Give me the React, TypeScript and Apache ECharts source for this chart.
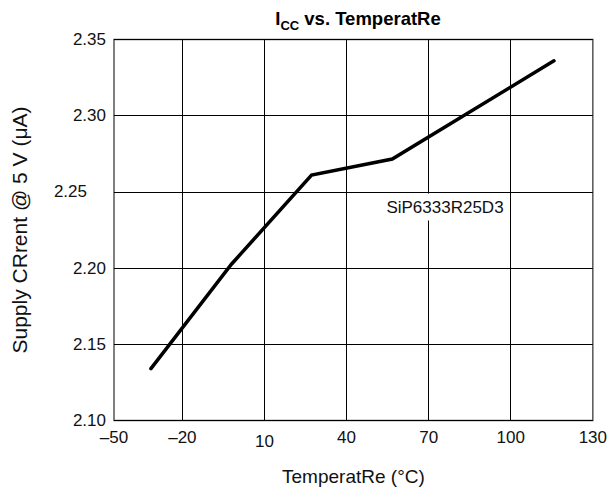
import React, { useEffect, useRef } from "react";
import * as echarts from "echarts";

const temperatures = [-31.5, -2, 27.2, 56.7, 115.8];
const supplyCurrent = [2.134, 2.2027, 2.261, 2.2716, 2.336];
const xTickValues = [-45, -20, 10, 40, 70, 100, 130];
const xTickLabels = ["\u201350", "\u201320", "10", "40", "70", "100", "130"];
const xGridValues = [-20, 10, 40, 70, 100];
const seriesLabel = "SiP6333R25D3";

const FONT = "Liberation Sans, Arial, Helvetica, sans-serif";

export default function App() {
  const ref = useRef<HTMLDivElement>(null);
  useEffect(() => {
    if (!ref.current) return;
    const chart = echarts.init(ref.current, undefined, { renderer: "svg" });
    chart.setOption({
      animation: false,
      backgroundColor: "#fff",
      textStyle: { fontFamily: FONT },
      title: {
        text: "{a|I}{b|CC}{a| vs. TemperatRe}",
        left: 353,
        textAlign: "center",
        top: 1,
        textStyle: {
          rich: {
            a: { fontFamily: FONT, fontSize: 18.5, fontWeight: "bold", color: "#000", verticalAlign: "bottom", lineHeight: 22 },
            b: { fontFamily: FONT, fontSize: 13, fontWeight: "bold", color: "#000", verticalAlign: "bottom", lineHeight: 16, padding: [0, 0, -4, 0] },
          },
        },
      },
      grid: {
        left: 114,
        right: 16,
        top: 39.5,
        bottom: 76.5,
        show: true,
        borderColor: "#555",
        borderWidth: 1.5,
        containLabel: false,
      },
      xAxis: {
        type: "value",
        min: -45,
        max: 130,
        name: "TemperatRe (\u00B0C)",
        nameLocation: "middle",
        nameGap: 46,
        nameTextStyle: { fontFamily: FONT, fontSize: 19, color: "#111" },
        axisLine: { show: false },
        axisTick: { show: false, customValues: xTickValues },
        splitLine: { show: false },
        axisLabel: {
          customValues: xTickValues,
          showMinLabel: true,
          showMaxLabel: true,
          margin: 8,
          fontFamily: FONT,
          fontSize: 17,
          color: "#111",
          formatter: (v: number) => {
            const i = xTickValues.indexOf(v);
            if (i < 0) return "";
            return v === 10 ? "{low|" + xTickLabels[i] + "}" : xTickLabels[i];
          },
          rich: {
            low: { fontFamily: FONT, fontSize: 17, color: "#111", padding: [4, 0, 0, 0] },
          },
        },
      },
      yAxis: {
        type: "value",
        min: 2.1,
        max: 2.35,
        interval: 0.05,
        name: "Supply CRrent @ 5 V (\u03BCA)",
        nameLocation: "middle",
        nameGap: 84,
        nameRotate: 90,
        nameTextStyle: { fontFamily: FONT, fontSize: 21, color: "#111" },
        axisLine: { show: false },
        axisTick: { show: false },
        splitLine: { show: true, lineStyle: { color: "#000", width: 1 } },
        axisLabel: {
          margin: 8,
          fontFamily: FONT,
          fontSize: 17,
          color: "#111",
          formatter: (v: number) => {
            const s = v.toFixed(2);
            return s === "2.25" ? "{shift|" + s + "}" : s;
          },
          rich: {
            shift: { fontFamily: FONT, fontSize: 17, color: "#111", padding: [0, 19, 0, 0] },
          },
        },
      },
      graphic: [
        {
          type: "text",
          x: 445,
          y: 207,
          z: 10,
          style: {
            text: seriesLabel,
            fontFamily: FONT,
            fontSize: 17,
            fill: "#111",
            align: "center",
            verticalAlign: "middle",
            backgroundColor: "#fff",
            padding: [5, 3],
          },
        },
      ],
      series: [
        {
          type: "line",
          data: [],
          z: 1,
          silent: true,
          markLine: {
            silent: true,
            symbol: ["none", "none"],
            label: { show: false },
            lineStyle: { color: "#000", width: 1, type: "solid" },
            data: xGridValues.map((v) => ({ xAxis: v })),
          },
        },
        {
          type: "line",
          z: 5,
          data: temperatures.map((t, i) => [t, supplyCurrent[i]]),
          showSymbol: false,
          symbol: "none",
          lineStyle: { color: "#000", width: 3.5, cap: "round", join: "miter" },
        },
      ],
    });
    return () => chart.dispose();
  }, []);
  return <div ref={ref} style={{ width: 610, height: 497, position: "absolute", left: 0, top: 0 }} />;
}
